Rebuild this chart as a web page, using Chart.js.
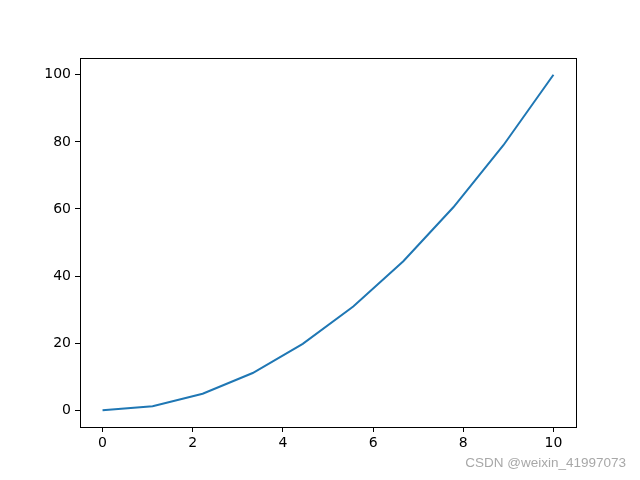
<!DOCTYPE html>
<html>
<head>
<meta charset="utf-8">
<script src="https://cdn.jsdelivr.net/npm/chart.js@4.4.0/dist/chart.umd.min.js"></script>
<style>
  body { margin: 0; background: #fff; }
  #wrap { position: relative; width: 640px; height: 480px; }
  #mark {
    position: absolute; right: 14px; top: 455px;
    font-family: "Liberation Sans", Arial, sans-serif; font-size: 13.5px;
    color: #a8a8a8; white-space: nowrap;
  }
</style>
</head>
<body>
<div id="wrap">
  <canvas id="plot" width="640" height="480"></canvas>
  <div id="mark">CSDN @weixin_41997073</div>
</div>
<script>
// values (10 evenly spaced points, 0..10)
const xValues = [0, 1.11, 2.22, 3.33, 4.44, 5.56, 6.67, 7.78, 8.89, 10];
const yValues = [0, 1.2, 4.9, 11.1, 19.8, 30.9, 44.4, 60.5, 79.0, 100];
const xTicks = [0, 2, 4, 6, 8, 10];
const yTicks = [0, 20, 40, 60, 80, 100];

const points = xValues.map((x, i) => ({ x: x, y: yValues[i] }));

// top/right spines
const frame = {
    id: 'frame',
    afterDraw(chart) {
        const a = chart.chartArea;
        const ctx = chart.ctx;
        ctx.save();
        ctx.strokeStyle = '#000';
        ctx.lineWidth = 1;
        ctx.strokeRect(Math.round(a.left) + 0.5, Math.round(a.top) + 0.5,
            Math.round(a.right - a.left), Math.round(a.bottom - a.top));
        ctx.restore();
    }
};

const tickFont = { family: 'DejaVu Sans', size: 14 };

new Chart(document.getElementById('plot').getContext('2d'), {
    type: 'line',
    data: {
        datasets: [{
            data: points,
            borderColor: '#1f77b4',
            borderWidth: 2,
            pointRadius: 0,
            fill: false,
            tension: 0
        }]
    },
    options: {
        responsive: false,
        animation: false,
        layout: { padding: { top: 58, right: 64, left: 0, bottom: 0 } },
        plugins: { legend: { display: false }, tooltip: { enabled: false } },
        scales: {
            x: {
                type: 'linear',
                min: -0.5,
                max: 10.5,
                afterBuildTicks: s => { s.ticks = xTicks.map(v => ({ value: v })); },
                afterFit: s => { s.height = 53; },
                grid: { drawOnChartArea: false, tickLength: 5, color: '#000' },
                border: { color: '#000' },
                ticks: { color: '#000', font: tickFont, padding: 3, maxRotation: 0 }
            },
            y: {
                min: -5,
                max: 105,
                afterBuildTicks: s => { s.ticks = yTicks.map(v => ({ value: v })); },
                afterFit: s => { s.width = 80; },
                grid: { drawOnChartArea: false, tickLength: 5, color: '#000' },
                border: { color: '#000' },
                ticks: { color: '#000', font: tickFont, padding: 4 }
            }
        }
    },
    plugins: [frame]
});
</script>
</body>
</html>
